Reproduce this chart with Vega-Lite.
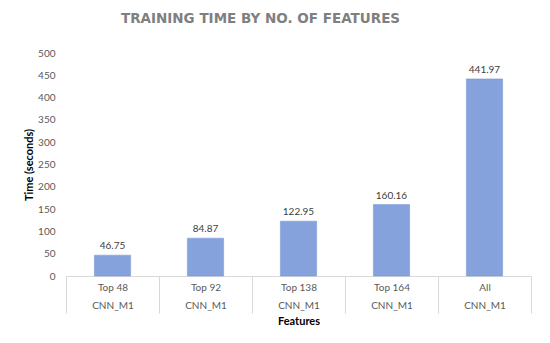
{
  "$schema": "https://vega.github.io/schema/vega-lite/v6.json",
  "autosize": {"type": "none"},
  "width": 465,
  "height": 223,
  "padding": {"left": 66, "top": 53, "right": 19, "bottom": 67},
  "background": "white",
  "config": {
    "font": "Lato",
    "view": {"stroke": null}
  },
  "title": {
    "text": "TRAINING TIME BY NO. OF FEATURES",
    "font": "DejaVu Sans",
    "fontSize": 13.5,
    "fontWeight": "bold",
    "color": "#7f7f7f",
    "anchor": "middle",
    "offset": 23,
    "dx": -38
  },
  "data": {
    "values": [
      {"feature": "Top 48", "model": "CNN_M1", "time": 46.75},
      {"feature": "Top 92", "model": "CNN_M1", "time": 84.87},
      {"feature": "Top 138", "model": "CNN_M1", "time": 122.95},
      {"feature": "Top 164", "model": "CNN_M1", "time": 160.16},
      {"feature": "All", "model": "CNN_M1", "time": 441.97}
    ]
  },
  "encoding": {
    "y": {
      "field": "time",
      "type": "quantitative",
      "scale": {"domain": [0, 500]},
      "axis": {
        "title": "Time (seconds)",
        "titleFontSize": 11,
        "titleFontWeight": "bold",
        "titleColor": "#000000",
        "titlePadding": 3,
        "values": [0, 50, 100, 150, 200, 250, 300, 350, 400, 450, 500],
        "labelFontSize": 10,
        "labelColor": "#595959",
        "labelPadding": 11,
        "ticks": false,
        "domain": false,
        "grid": false
      }
    }
  },
  "layer": [
    {
      "mark": {"type": "bar", "opacity": 0},
      "encoding": {
        "x": {
          "field": "feature",
          "type": "nominal",
          "sort": null,
          "scale": {"paddingInner": 0, "paddingOuter": 0},
          "axis": {
            "title": "Features",
            "titleFontSize": 11,
            "titleFontWeight": "bold",
            "titleColor": "#000000",
            "titlePadding": 2,
            "labelAngle": 0,
            "labelFontSize": 10,
            "labelColor": "#595959",
            "labelPadding": -31,
            "labelLineHeight": 18,
            "labelExpr": "datum.label ? [datum.label, 'CNN_M1'] : ''",
            "tickBand": "extent",
            "tickSize": 37,
            "tickColor": "#d9d9d9",
            "domainColor": "#d9d9d9"
          }
        }
      }
    },
    {
      "encoding": {
        "x": {
          "field": "feature",
          "type": "nominal",
          "sort": null,
          "scale": {"paddingInner": 0.61, "paddingOuter": 0.305},
          "axis": null
        }
      },
      "layer": [
        {
          "mark": {"type": "bar", "color": "#86a2dd", "stroke": "#7593d6", "strokeWidth": 0.5}
        },
        {
          "mark": {"type": "text", "dy": -9, "fontSize": 10, "color": "#404040"},
          "encoding": {
            "text": {"field": "time", "type": "quantitative", "format": ".2f"}
          }
        }
      ]
    }
  ],
  "resolve": {"scale": {"x": "independent"}, "axis": {"x": "independent"}}
}
